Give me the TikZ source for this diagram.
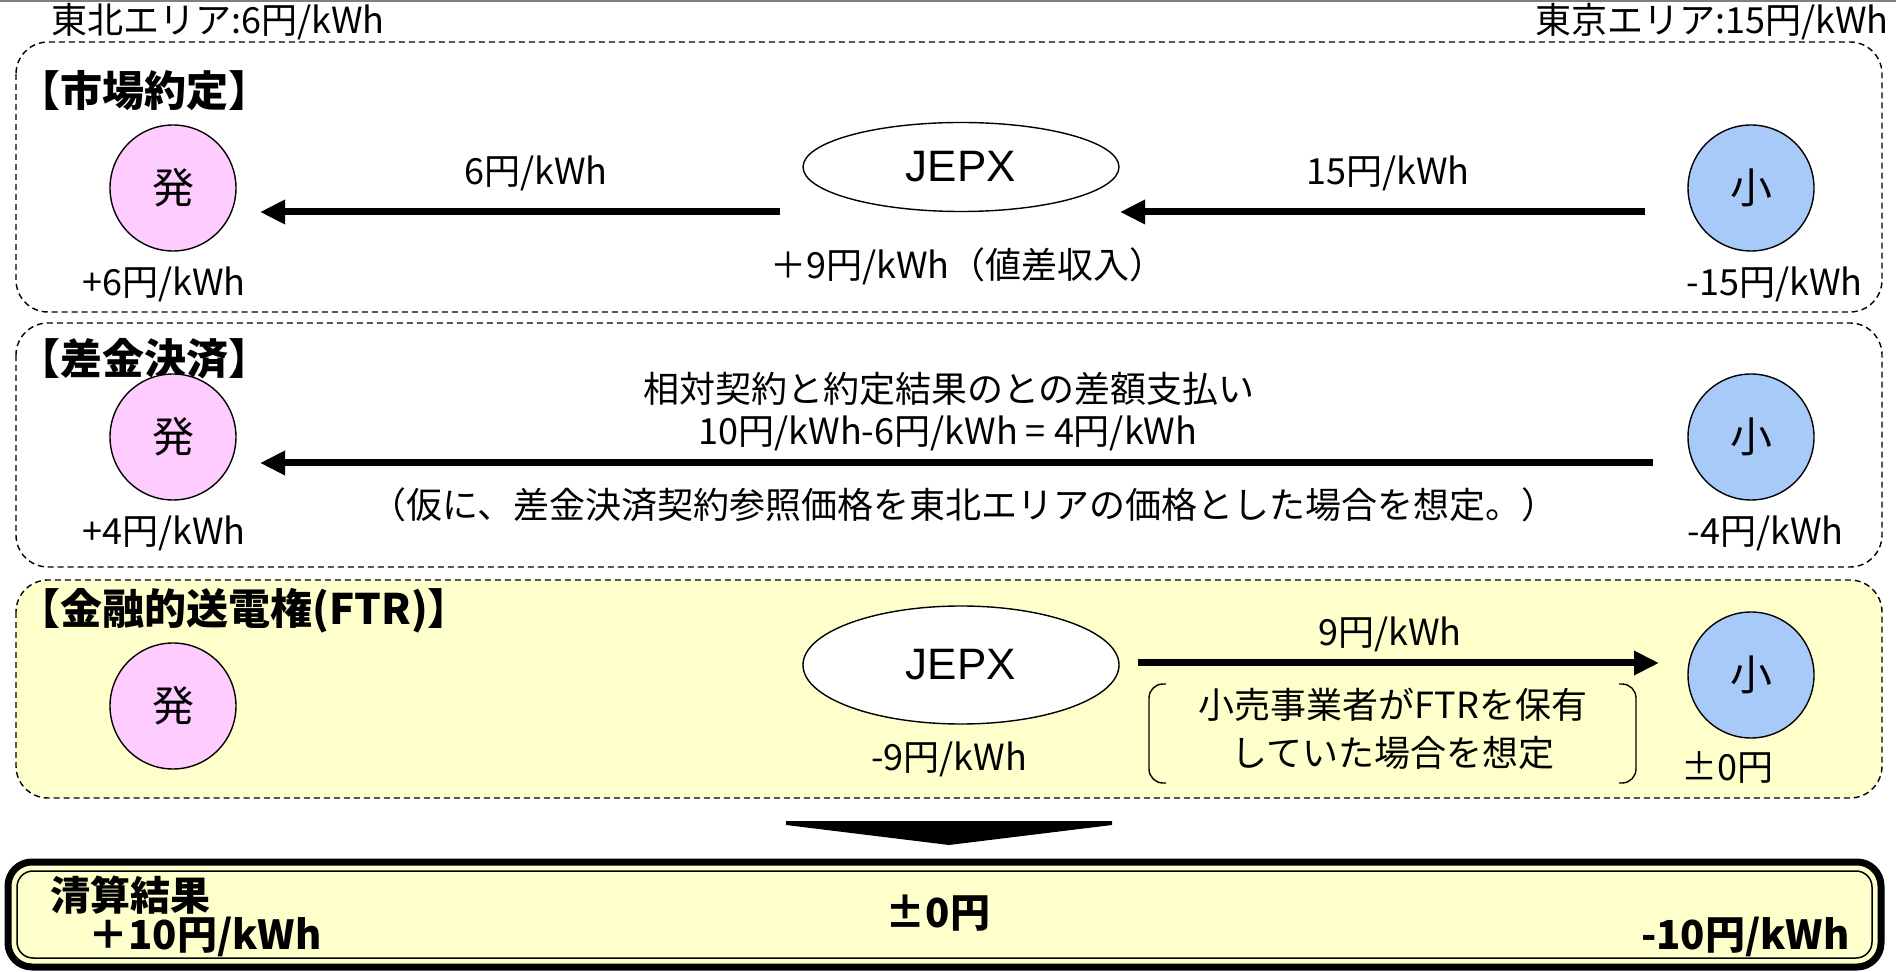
\documentclass[tikz,border=0pt]{standalone}
\usepackage{fontspec}
\setmainfont{Noto Sans CJK JP}
\newfontfamily\jepxfont{Liberation Sans}
\usetikzlibrary{arrows.meta,shapes.geometric}
\definecolor{pinkfill}{RGB}{255,204,255}
\definecolor{bluefill}{RGB}{168,202,248}
\definecolor{ylw}{RGB}{255,255,204}
\begin{document}
\begin{tikzpicture}[x=0.5pt,y=-0.5pt,
  txt/.style={inner sep=0pt, font=\fontsize{18}{20}\selectfont},
  ttl/.style={inner sep=0pt, anchor=west, font=\fontsize{21}{23}\selectfont\bfseries},
  res/.style={inner sep=0pt, font=\fontsize{20}{22}\selectfont\bfseries},
  panel/.style={draw, dash pattern=on 3pt off 2pt, line width=0.7pt, rounded corners=16pt},
  gen/.style={ellipse, draw, line width=0.7pt, fill=pinkfill, minimum width=63pt, minimum height=63pt, inner sep=0pt, font=\fontsize{21}{23}\selectfont},
  ret/.style={gen, fill=bluefill},
  jepx/.style={ellipse, draw, line width=0.7pt, fill=white, minimum width=158pt, inner sep=0pt, font=\jepxfont\fontsize{22}{24}\selectfont},
  flow/.style={line width=3.5pt, -{Triangle[length=12.5pt,width=11.5pt]}},
  brk/.style={line width=0.7pt, rounded corners=7pt},
]
\useasboundingbox (0,0) rectangle (1896,972);
\draw[gray, line width=1pt] (0,1.5) -- (1896,1.5);

% headers
\node[txt, anchor=west] (tohoku) at (51,22) {東北エリア:6円/kWh};
\node[txt, anchor=east] (tokyo) at (1889,22) {東京エリア:15円/kWh};

% panels
\draw[panel] (16,42) rectangle (1882,312);
\draw[panel] (16,323) rectangle (1882,567);
\draw[panel, fill=ylw] (16,580) rectangle (1882,798);

\node[ttl] (t1) at (18,91) {【市場約定】};
\node[ttl] (t2) at (18,359) {【差金決済】};
\node[ttl] (t3) at (18,611) {【金融的送電権(FTR)】};

% panel 1
\node[gen] (g1) at (173,188) {発};
\node[ret] (r1) at (1751,188) {小};
\node[jepx, minimum height=44.5pt] (j1) at (961,167) {JEPX};
\coordinate (a1s) at (780,212);
\coordinate (a1e) at (260,212);
\draw[flow] (a1s) -- (a1e);
\coordinate (a2s) at (1645,212);
\coordinate (a2e) at (1120,212);
\draw[flow] (a2s) -- (a2e);
\node[txt] (l1) at (536,173) {6円/kWh};
\node[txt] (l2) at (1388,173) {15円/kWh};
\node[txt] (l3) at (968,266) {＋9円/kWh（値差収入）};
\node[txt, anchor=west] (l4) at (82,284) {+6円/kWh};
\node[txt, anchor=east] (l5) at (1863,284) {-15円/kWh};

% panel 2
\node[gen] (g2) at (173,437) {発};
\node[ret] (r2) at (1751,437) {小};
\coordinate (b1s) at (1653,463);
\coordinate (b1e) at (260,463);
\draw[flow] (b1s) -- (b1e);
\node[txt] (m1) at (949,389) {相対契約と約定結果のとの差額支払い};
\node[txt] (m2) at (948,433) {10円/kWh-6円/kWh = 4円/kWh};
\node[txt] (m3) at (964,505) {（仮に、差金決済契約参照価格を東北エリアの価格とした場合を想定。）};
\node[txt, anchor=west] (m4) at (82,533) {+4円/kWh};
\node[txt, anchor=east] (m5) at (1844,533) {-4円/kWh};

% panel 3
\node[gen] (g3) at (173,706) {発};
\node[ret] (r3) at (1751,675) {小};
\node[jepx, minimum height=59pt] (j3) at (961,665) {JEPX};
\coordinate (c1s) at (1138,663);
\coordinate (c1e) at (1659,663);
\draw[flow] (c1s) -- (c1e);
\node[txt] (n1) at (1390,634) {9円/kWh};
\node[txt] (n2) at (949,759) {-9円/kWh};
\node[txt] (n3) at (1393,705) {小売事業者がFTRを保有};
\node[txt] (n4) at (1393,753) {していた場合を想定};
\node[txt, anchor=west] (n5) at (1681,767) {±0円};
\draw[brk] (1166,684) -- (1149,684) -- (1149,783) -- (1166,783);
\draw[brk] (1619,684) -- (1636,684) -- (1636,783) -- (1619,783);

% down arrow
\fill (786,821) -- (1112,821) -- (1112,825) -- (949,845) -- (786,825) -- cycle;

% result box
\draw[line width=3.5pt, fill=ylw, rounded corners=12pt] (8,862) rectangle (1881,967);
\draw[line width=0.75pt, rounded corners=8pt] (17,871) rectangle (1872,958);
\node[res, anchor=west] (s1) at (50,895) {清算結果};
\node[res, anchor=west] (s2) at (88,937) {＋10円/kWh};
\node[res] (s3) at (938,913) {±0円};
\node[res, anchor=east] (s4) at (1850,937) {-10円/kWh};
\end{tikzpicture}
\end{document}
